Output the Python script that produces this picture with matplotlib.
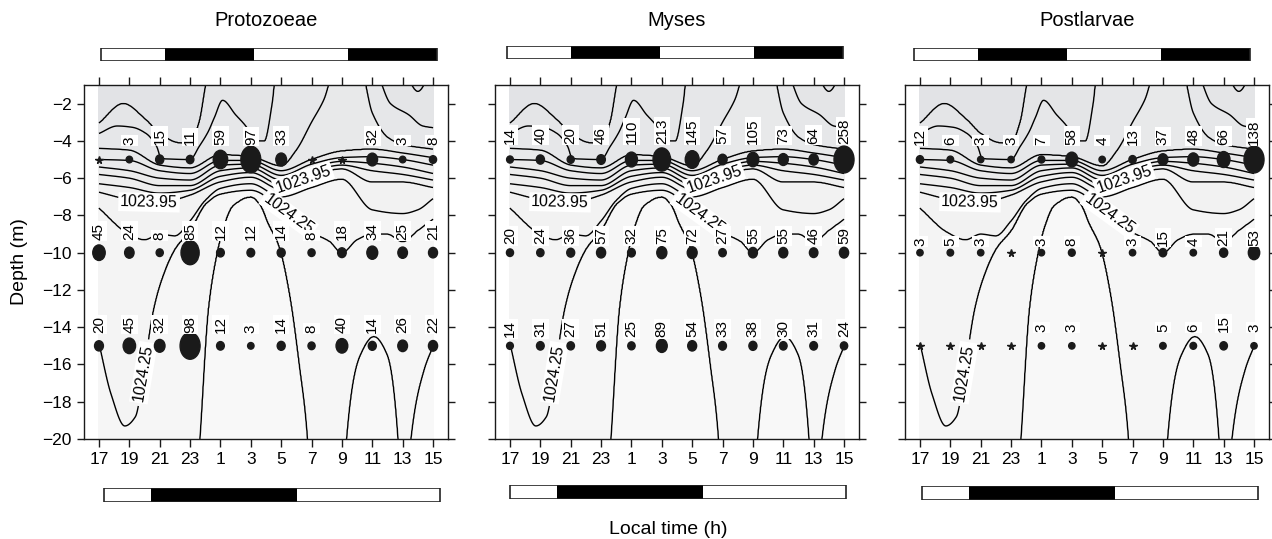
import numpy as np
import matplotlib.pyplot as plt
from matplotlib.patches import Ellipse

plt.rcParams['font.family'] = ['Liberation Sans', 'DejaVu Sans']

# sampling times (local hour) and depths of the net hauls
hours = ['17', '19', '21', '23', '1', '3', '5', '7', '9', '11', '13', '15']
net_depth = [-5, -10, -15]
titles = ['Protozoeae', 'Myses', 'Postlarvae']

# larval counts, one row per net depth (0 = none caught, drawn as a star)
protozoeae = [[0, 3, 15, 11, 59, 97, 33, 0, 0, 32, 3, 8],
              [45, 24, 8, 85, 12, 12, 14, 8, 18, 34, 25, 21],
              [20, 45, 32, 98, 12, 3, 14, 8, 40, 14, 26, 22]]
myses = [[14, 40, 20, 46, 110, 213, 145, 57, 105, 73, 64, 258],
         [20, 24, 36, 57, 32, 75, 72, 27, 55, 55, 46, 59],
         [14, 31, 27, 51, 25, 89, 54, 33, 38, 30, 31, 24]]
postlarvae = [[12, 6, 3, 3, 7, 58, 4, 13, 37, 48, 66, 138],
              [3, 5, 3, 0, 3, 8, 0, 3, 15, 4, 21, 53],
              [0, 0, 0, 0, 3, 3, 0, 0, 5, 6, 15, 3]]
counts = [protozoeae, myses, postlarvae]

# density isolines (kg m-3) traced off the section: (sample index, depth m)
dens_levels = [1022.90, 1023.05, 1023.20, 1023.35, 1023.50, 1023.65,
               1023.80, 1023.95, 1024.10, 1024.25, 1024.40]
label_levels = [1023.95, 1024.25]
iso_a = [(0, -3.06), (0.8, -2.0), (1.5, -2.8), (2.0, -3.6), (2.6, -4.1), (3.0, -4.15), (3.3, -3.0),
         (3.6, -0.5), (4.0, 0), (9.9, 0), (10.5, -1.35), (11, 0)]
iso_b = [(0, -3.6), (0.6, -3.2), (1.1, -3.27), (1.55, -3.6), (1.9, -4.3), (2.05, -4.95), (3.0, -5.0),
         (3.3, -4.3), (3.6, -3.5), (3.8, -2.75), (4.07, -1.82), (4.5, -2.6), (4.83, -3.2), (5.16, -4.0),
         (5.45, -4.0), (5.7, -2.0), (5.85, 0), (9.0, 0), (9.6, -2.0), (10.2, -2.6), (10.66, -3.2), (11, -3.3)]
iso_c = [(0, -4.4), (1, -4.5), (2, -5.3), (3, -5.45), (4, -4.75), (5, -4.85), (6, -5.35), (6.5, -4.5),
         (7, -3.0), (7.4, -1.8), (7.8, 0), (8.6, 0), (9.0, -2.5), (9.5, -3.8), (10, -4.2), (11, -4.45)]
iso_d = [(0, -5.0), (1, -5.05), (2, -5.6), (3, -5.75), (4, -5.05), (5, -5.05), (6, -5.6), (7, -5.0),
         (8, -4.55), (9, -4.45), (10, -4.65), (11, -4.9)]
iso_e = [(0, -5.4), (1, -5.6), (2, -6.0), (3, -6.1), (4, -5.3), (5, -5.25), (6, -5.85), (7, -5.25),
         (8, -4.9), (9, -4.85), (10, -5.0), (11, -5.3)]
iso_f = [(0, -5.8), (1, -6.0), (2, -6.4), (3, -6.4), (4, -5.6), (5, -5.45), (6, -6.1), (7, -5.45),
         (8, -5.1), (9, -5.2), (10, -5.4), (11, -5.75)]
iso_g = [(0, -6.3), (1, -6.5), (2, -6.8), (3, -6.65), (4, -5.9), (5, -5.7), (6, -6.35), (7, -5.65),
         (8, -5.3), (9, -5.6), (10, -5.8), (11, -6.1)]
iso_h = [(0, -6.75), (1, -7.15), (1.65, -7.3), (2.2, -7.25), (3, -6.9), (4, -6.2), (5, -5.95), (6, -6.6),
         (7, -5.85), (8, -5.5), (9, -6.2), (10, -6.2), (11, -6.5)]
iso_i = [(0, -7.6), (0.9, -8.9), (1.5, -9.3), (2, -9.0), (2.5, -9.1), (3, -8.3), (3.5, -7.2), (4, -6.55),
         (5, -6.3), (6, -7.0), (7, -6.5), (8, -6.05), (9, -7.7), (10, -7.9), (10.5, -7.7), (11, -7.1)]
iso_j = [(0, -14.85), (0.4, -17.6), (0.85, -19.3), (1.2, -18.8), (1.5, -16.0), (1.8, -13.0), (2.05, -11.5),
         (2.5, -9.8), (3, -8.8), (3.5, -7.4), (4, -6.85), (5, -6.65), (6, -7.6), (7, -8.9), (7.6, -9.4),
         (8, -10.0), (8.5, -9.3), (9, -9.0), (9.5, -9.0), (10, -9.4), (10.5, -8.8), (11, -8.2)]
iso_k = [(0, -30), (2.8, -30), (3.3, -20.5), (3.6, -13), (3.85, -10.3), (4.1, -8.6), (4.4, -7.5),
         (5.0, -7.0), (5.3, -7.4), (5.6, -8.5), (5.9, -9.5), (6.0, -10.0), (6.3, -12.4), (6.6, -16),
         (6.87, -20), (7.1, -30), (8.0, -30), (8.15, -20), (8.6, -15.5), (9.05, -14.5), (9.5, -15.5),
         (9.85, -20), (10.0, -30), (10.27, -20), (10.7, -16.3), (11, -15.0)]
isolines = [iso_a, iso_b, iso_c, iso_d, iso_e, iso_f, iso_g, iso_h, iso_i, iso_j, iso_k]
band_colors = ['#e2e3e6', '#e4e5e7', '#e6e7e9', '#e8e9ea', '#eaeaeb', '#ececec',
               '#eeeeee', '#f0f0f0', '#f2f2f2', '#f4f4f4', '#f6f6f6', '#f8f8f8']

# day/night (top) and light/dark (bottom) bars, hours from 17 h
top_bar = [4.2, 5.9, 6.2, 5.8]
top_col = ['white', 'k', 'white', 'k']
bot_bar = [3.1, 9.6, 9.4]
bot_col = ['white', 'k', 'white']


def pchip(x, y, xi):
    x = np.asarray(x, float)
    y = np.asarray(y, float)
    h = np.diff(x)
    delta = np.diff(y) / h
    d = np.zeros(len(x))
    for k in range(1, len(x) - 1):
        if delta[k - 1] * delta[k] > 0:
            w1 = 2 * h[k] + h[k - 1]
            w2 = h[k] + 2 * h[k - 1]
            d[k] = (w1 + w2) / (w1 / delta[k - 1] + w2 / delta[k])
    d[0] = delta[0]
    d[-1] = delta[-1]
    idx = np.clip(np.searchsorted(x, xi) - 1, 0, len(x) - 2)
    t = (xi - x[idx]) / h[idx]
    h00 = 2 * t**3 - 3 * t**2 + 1
    h10 = t**3 - 2 * t**2 + t
    h01 = -2 * t**3 + 3 * t**2
    h11 = t**3 - t**2
    return h00 * y[idx] + h10 * h[idx] * d[idx] + h01 * y[idx + 1] + h11 * h[idx] * d[idx + 1]


# build the density field from the traced isolines
xs = np.arange(len(hours))
xf = np.linspace(0, len(hours) - 1, 441)
zf = np.linspace(-20, -1, 571)
lines = np.array([pchip([p[0] for p in iso], [p[1] for p in iso], xf) for iso in isolines])
for k in range(1, len(lines)):
    lines[k] = np.minimum(lines[k], lines[k - 1] - 0.03)
field = np.zeros((len(zf), len(xf)))
for j in range(len(xf)):
    dd = np.concatenate([[-5.0], -lines[:, j], [45.0]])
    rr = np.concatenate([[1022.75], dens_levels, [1024.55]])
    field[:, j] = np.interp(-zf, dd, rr)
XF, ZF = np.meshgrid(xf, zf)

fill_levels = np.concatenate([[1022.0], dens_levels, [1025.5]])
plain_levels = [v for v in dens_levels if round(v, 2) not in label_levels]

fig = plt.figure(figsize=(12.72, 5.39), dpi=100)
W, H = 1272.0, 539.0
lefts = [83.8, 494.8, 904.8]
top_shift = [2, -3, -6]
top_y = [48, 46, 48]
bot_shift = [5, 0, 2]
bot_y = [488, 485, 486]
label_gap = [[0.8, 0.7, 0.7], [0.85, 0.45, 0.45], [0.8, 0.35, 0.75]]
ink = '#1a1a1a'

for p in range(3):
    ax = fig.add_axes([lefts[p] / W, 1 - 439 / H, 364.4 / W, 354 / H])
    ax.contourf(XF, ZF, field, levels=fill_levels, colors=band_colors, zorder=0)
    ax.contour(XF, ZF, field, levels=plain_levels, colors='k', linewidths=1.0, zorder=1)
    cs = ax.contour(XF, ZF, field, levels=label_levels, colors='k', linewidths=1.0, zorder=1)
    labs = ax.clabel(cs, fmt='%.2f', fontsize=11.5, inline=True, inline_spacing=5,
                     manual=[(1.65, -7.3), (6.7, -6.0), (6.3, -7.8), (1.35, -16.4)])
    for t in labs:
        t.set_bbox(dict(boxstyle='square,pad=0.12', fc='white', ec='none'))
        t.set_zorder(2)

    vmax = max(max(r) for r in counts[p])
    for r, dep in enumerate(net_depth):
        for i, v in enumerate(counts[p][r]):
            if v == 0:
                ax.plot(i, dep, marker='*', ms=5.5, color=ink, ls='none', zorder=3)
                continue
            w = 6 + 14 * v / vmax
            ax.add_patch(Ellipse((i, dep), w / 30.36, (1.5 * w - 3) / 18.75, color=ink, zorder=3))
            ax.text(i, dep + label_gap[p][r], str(v), rotation=90, ha='center', va='bottom', fontsize=11,
                    zorder=4, bbox=dict(boxstyle='square,pad=0.08', fc='white', ec='none'))

    ax.set_xlim(-0.5, 11.5)
    ax.set_ylim(-20, -1)
    ax.set_xticks(xs)
    ax.set_xticklabels(hours, fontsize=12.5)
    ax.set_yticks(np.arange(-20, -1, 2))
    ax.tick_params(direction='out', top=True, right=True, length=6, width=1, color=ink)
    ax.tick_params(axis='y', length=5, labelsize=12.5)
    if p > 0:
        ax.set_yticklabels([])
    for s in ax.spines.values():
        s.set_linewidth(1.0)
        s.set_color(ink)
    fig.text((lefts[p] + 182) / W, 1 - 21 / H, titles[p], ha='center', va='center', fontsize=14.5)

    # top bar
    bx = fig.add_axes([(lefts[p] + top_shift[p]) / W, 1 - (top_y[p] + 13) / H, 364.4 / W, 13 / H])
    start = 0
    for dur, c in zip(top_bar, top_col):
        bx.barh(0.5, dur / 2, left=start / 2, height=1, color=c, edgecolor='none')
        start += dur
    bx.barh(0.5, start / 2, left=0, height=1, fill=False, edgecolor='#222222', lw=1.2)
    bx.set_xlim(-0.5, 11.5)
    bx.set_ylim(0, 1)
    bx.axis('off')

    # bottom bar
    bx = fig.add_axes([(lefts[p] + bot_shift[p]) / W, 1 - (bot_y[p] + 14) / H, 364.4 / W, 14 / H])
    start = 0
    for dur, c in zip(bot_bar, bot_col):
        bx.barh(0.5, dur / 2, left=start / 2, height=1, color=c, edgecolor='none')
        start += dur
    bx.barh(0.5, start / 2, left=0, height=1, fill=False, edgecolor='#222222', lw=1.2)
    bx.set_xlim(-0.5, 11.5)
    bx.set_ylim(0, 1)
    bx.axis('off')

fig.text(19 / W, 1 - 262 / H, 'Depth (m)', rotation=90, ha='center', va='center', fontsize=14)
fig.text(668 / W, 1 - 529 / H, 'Local time (h)', ha='center', va='center', fontsize=14)
fig.savefig('out.png', dpi=100)
